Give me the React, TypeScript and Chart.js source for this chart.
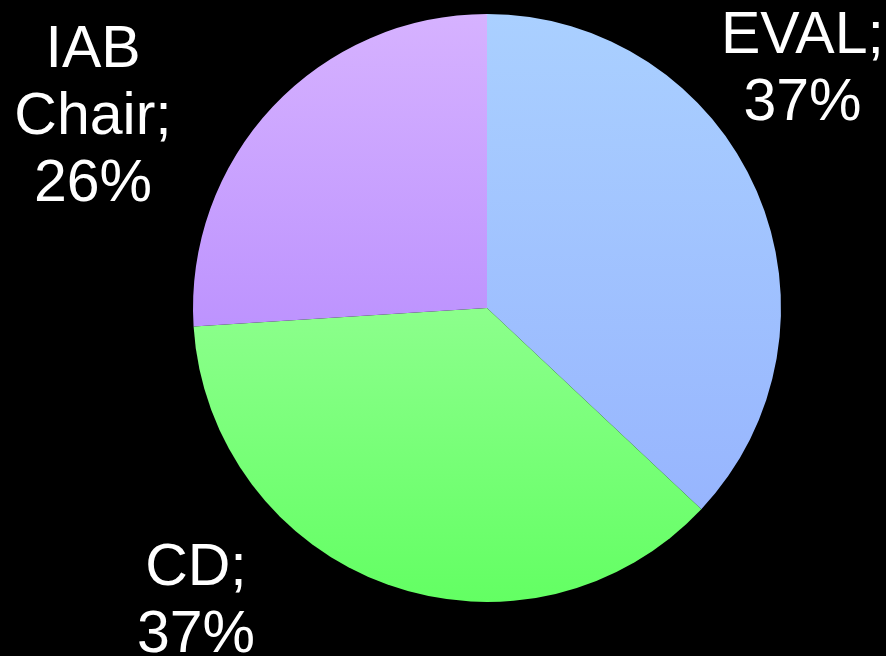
import React, { useEffect, useRef } from "react";
import { Chart, registerables } from "chart.js";

Chart.register(...registerables);

const categories = ["EVAL", "CD", "IAB Chair"];
const values = [37, 37, 26];
const labelLines = [["EVAL;", "37%"], ["CD;", "37%"], ["IAB", "Chair;", "26%"]];
const topColors = ["#aad0ff", "#8cff8c", "#d6b2ff"];
const bottomColors = ["#97b5fe", "#63ff63", "#bd93fe"];

// label block anchors, in units of the pie radius relative to its centre (first baseline)
const labelAnchors = [
  { dx: 1.073, dy: -0.866 },
  { dx: -0.99, dy: 0.942 },
  { dx: -1.34, dy: -0.82 },
];
const LINE_H = 67;
const FONT_PX = 59;

function sliceYRange(i: number, cy: number, r: number) {
  const total = values.reduce((a, b) => a + b, 0);
  let start = 0;
  for (let k = 0; k < i; k++) start += values[k] / total * Math.PI * 2;
  const end = start + values[i] / total * Math.PI * 2;
  const ys = [cy, cy - r * Math.cos(start), cy - r * Math.cos(end)];
  for (let a = 0; a <= Math.PI * 2; a += Math.PI / 2) {
    if (a > start && a < end) ys.push(cy - r * Math.cos(a));
  }
  return [Math.min(...ys), Math.max(...ys)];
}

const labelPlugin = {
  id: "sliceLabels",
  afterDraw(chart: any) {
    const meta = chart.getDatasetMeta(0);
    const arc = meta.data[0];
    if (!arc) return;
    const cx = arc.x, cy = arc.y, r = arc.outerRadius;
    const ctx = chart.ctx;
    ctx.save();
    ctx.fillStyle = "#ffffff";
    ctx.font = `${FONT_PX}px 'Liberation Sans', Arial, sans-serif`;
    ctx.textAlign = "center";
    ctx.textBaseline = "alphabetic";
    labelLines.forEach((lines, i) => {
      const a = labelAnchors[i];
      const x = cx + a.dx * r;
      const y0 = cy + a.dy * r;
      lines.forEach((t, j) => ctx.fillText(t, x, y0 + j * LINE_H));
    });
    ctx.restore();
  },
};

const bgPlugin = {
  id: "blackBg",
  beforeDraw(chart: any) {
    const ctx = chart.ctx;
    ctx.save();
    ctx.fillStyle = "#000000";
    ctx.fillRect(0, 0, chart.width, chart.height);
    ctx.restore();
  },
};

export default function App() {
  const ref = useRef<HTMLCanvasElement>(null);
  useEffect(() => {
    document.body.style.margin = "0";
    document.body.style.background = "#000";
    const chart = new Chart(ref.current!, {
      type: "pie",
      data: {
        labels: categories,
        datasets: [
          {
            data: values,
            borderWidth: 0,
            backgroundColor: (c: any) => {
              const ca = c.chart.chartArea;
              if (!ca) return topColors[c.dataIndex];
              const cx = (ca.left + ca.right) / 2;
              const cy = (ca.top + ca.bottom) / 2;
              const r = Math.min(ca.right - ca.left, ca.bottom - ca.top) / 2;
              const [y0, y1] = sliceYRange(c.dataIndex, cy, r);
              const g = c.chart.ctx.createLinearGradient(cx, y0, cx, y1);
              g.addColorStop(0, topColors[c.dataIndex]);
              g.addColorStop(1, bottomColors[c.dataIndex]);
              return g;
            },
          },
        ],
      },
      options: {
        responsive: false,
        animation: false,
        layout: { padding: { left: 193, right: 105, top: 14, bottom: 54 } },
        plugins: { legend: { display: false }, tooltip: { enabled: false } },
      },
      plugins: [bgPlugin, labelPlugin],
    });
    return () => chart.destroy();
  }, []);
  return <canvas ref={ref} width={886} height={656} style={{ display: "block" }} />;
}
